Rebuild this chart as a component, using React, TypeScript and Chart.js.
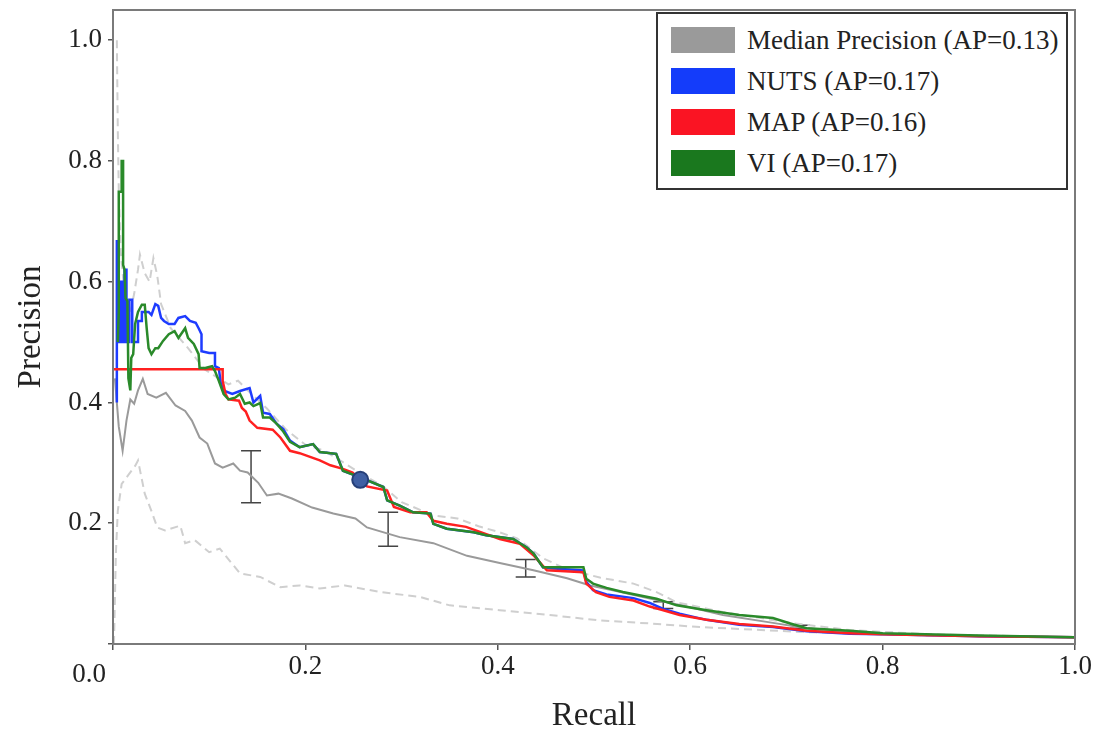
import React, { useEffect, useRef } from 'react';
import { Chart, registerables } from 'chart.js';

Chart.register(...registerables);

// ---------- data ----------
const xTickValues = [0, 0.2, 0.4, 0.6, 0.8, 1.0];
const yTickValues = [0, 0.2, 0.4, 0.6, 0.8, 1.0];

const legendLabels = [
  'Median Precision (AP=0.13)',
  'NUTS (AP=0.17)',
  'MAP (AP=0.16)',
  'VI (AP=0.17)',
];

const nutsPts: [number, number][] = [
  [0.004, 0.40], [0.004, 0.667], [0.006, 0.667], [0.006, 0.50], [0.008, 0.50], [0.008, 0.60],
  [0.010, 0.60], [0.010, 0.50], [0.012, 0.50], [0.012, 0.62], [0.014, 0.62], [0.014, 0.50],
  [0.017, 0.50], [0.017, 0.57], [0.020, 0.57], [0.020, 0.50], [0.026, 0.50], [0.026, 0.535],
  [0.030, 0.535], [0.030, 0.55], [0.037, 0.55], [0.040, 0.545], [0.044, 0.563], [0.047, 0.56],
  [0.050, 0.54], [0.053, 0.535], [0.058, 0.53], [0.064, 0.53], [0.068, 0.54], [0.075, 0.543],
  [0.080, 0.535], [0.086, 0.532], [0.089, 0.523], [0.092, 0.513], [0.092, 0.485], [0.100, 0.482],
  [0.106, 0.482], [0.106, 0.46], [0.110, 0.457], [0.112, 0.432], [0.116, 0.419], [0.124, 0.414],
  [0.132, 0.419], [0.142, 0.424], [0.146, 0.40], [0.153, 0.411], [0.156, 0.383], [0.163, 0.381],
  [0.170, 0.365], [0.177, 0.356], [0.184, 0.337], [0.194, 0.326], [0.208, 0.331], [0.215, 0.318],
  [0.232, 0.315], [0.239, 0.287], [0.257, 0.276], [0.281, 0.26], [0.285, 0.238], [0.298, 0.229],
  [0.312, 0.218], [0.330, 0.216], [0.333, 0.199], [0.347, 0.191], [0.375, 0.185], [0.388, 0.18],
  [0.416, 0.174], [0.430, 0.16], [0.437, 0.15], [0.447, 0.127], [0.458, 0.125], [0.489, 0.122],
  [0.492, 0.103], [0.499, 0.089], [0.513, 0.082], [0.541, 0.076], [0.558, 0.068], [0.572, 0.058],
  [0.589, 0.05], [0.617, 0.04], [0.651, 0.032], [0.686, 0.028], [0.721, 0.021], [0.766, 0.017],
  [0.80, 0.016], [0.90, 0.013], [1.0, 0.011],
];

const mapPts: [number, number][] = [
  [0.0, 0.455], [0.114, 0.455], [0.114, 0.436], [0.117, 0.414], [0.120, 0.405], [0.131, 0.403],
  [0.134, 0.391], [0.138, 0.385], [0.142, 0.37], [0.150, 0.358], [0.166, 0.355], [0.174, 0.342],
  [0.184, 0.32], [0.194, 0.316], [0.215, 0.304], [0.226, 0.296], [0.239, 0.29], [0.249, 0.284],
  [0.264, 0.261], [0.285, 0.254], [0.292, 0.227], [0.309, 0.218], [0.326, 0.218], [0.333, 0.204],
  [0.347, 0.199], [0.367, 0.194], [0.388, 0.182], [0.402, 0.174], [0.423, 0.166], [0.437, 0.147],
  [0.451, 0.122], [0.489, 0.119], [0.492, 0.10], [0.502, 0.086], [0.516, 0.078], [0.541, 0.072],
  [0.558, 0.062], [0.572, 0.056], [0.589, 0.048], [0.617, 0.04], [0.651, 0.033], [0.686, 0.029],
  [0.721, 0.022], [0.766, 0.018], [0.80, 0.016], [0.90, 0.013], [1.0, 0.011],
];

const viPts: [number, number][] = [
  [0.005, 0.50], [0.006, 0.55], [0.006, 0.749], [0.009, 0.749], [0.009, 0.80], [0.0105, 0.80],
  [0.0105, 0.628], [0.012, 0.62], [0.013, 0.573], [0.015, 0.568], [0.016, 0.44], [0.018, 0.42],
  [0.019, 0.474], [0.021, 0.48], [0.023, 0.53], [0.026, 0.55], [0.030, 0.562], [0.033, 0.562],
  [0.035, 0.523], [0.037, 0.49], [0.040, 0.48], [0.044, 0.49], [0.047, 0.49], [0.052, 0.502],
  [0.058, 0.513], [0.064, 0.518], [0.068, 0.507], [0.075, 0.523], [0.078, 0.507], [0.084, 0.497],
  [0.089, 0.48], [0.090, 0.457], [0.096, 0.457], [0.103, 0.46], [0.106, 0.452], [0.110, 0.436],
  [0.115, 0.414], [0.120, 0.405], [0.127, 0.408], [0.132, 0.414], [0.137, 0.398], [0.142, 0.40],
  [0.146, 0.394], [0.153, 0.399], [0.156, 0.375], [0.163, 0.375], [0.170, 0.365], [0.177, 0.352],
  [0.184, 0.335], [0.194, 0.326], [0.208, 0.331], [0.215, 0.318], [0.232, 0.315], [0.239, 0.287],
  [0.257, 0.276], [0.281, 0.26], [0.285, 0.238], [0.298, 0.229], [0.312, 0.218], [0.330, 0.216],
  [0.333, 0.199], [0.347, 0.191], [0.375, 0.185], [0.388, 0.18], [0.416, 0.174], [0.430, 0.16],
  [0.437, 0.15], [0.447, 0.127], [0.458, 0.127], [0.489, 0.127], [0.492, 0.108], [0.499, 0.10],
  [0.513, 0.093], [0.530, 0.086], [0.565, 0.075], [0.586, 0.064], [0.617, 0.056], [0.651, 0.048],
  [0.686, 0.043], [0.704, 0.034], [0.721, 0.026], [0.766, 0.022], [0.80, 0.018], [0.90, 0.014],
  [1.0, 0.011],
];

const medianPts: [number, number][] = [
  [0.002, 0.44], [0.006, 0.36], [0.010, 0.32], [0.014, 0.37], [0.018, 0.405], [0.022, 0.398],
  [0.026, 0.42], [0.031, 0.439], [0.036, 0.414], [0.045, 0.408], [0.055, 0.416], [0.065, 0.395],
  [0.075, 0.386], [0.082, 0.37], [0.090, 0.342], [0.098, 0.332], [0.106, 0.299], [0.114, 0.292],
  [0.125, 0.299], [0.132, 0.287], [0.140, 0.284], [0.151, 0.267], [0.160, 0.246], [0.172, 0.249],
  [0.186, 0.241], [0.207, 0.226], [0.229, 0.216], [0.252, 0.208], [0.264, 0.193], [0.298, 0.177],
  [0.333, 0.167], [0.368, 0.146], [0.402, 0.134], [0.437, 0.122], [0.472, 0.109], [0.496, 0.097],
  [0.517, 0.09], [0.565, 0.073], [0.60, 0.061], [0.634, 0.048], [0.686, 0.035], [0.721, 0.026],
  [0.80, 0.017], [0.90, 0.013], [1.0, 0.011],
];

const upperQuantPts: [number, number][] = [
  [0.004, 1.0], [0.005, 0.85], [0.006, 0.75], [0.008, 0.65], [0.012, 0.58], [0.018, 0.55],
  [0.022, 0.58], [0.026, 0.62], [0.028, 0.645], [0.033, 0.614], [0.038, 0.60], [0.042, 0.639],
  [0.046, 0.61], [0.050, 0.563], [0.060, 0.523], [0.078, 0.49], [0.095, 0.455], [0.110, 0.44],
  [0.120, 0.43], [0.130, 0.436], [0.140, 0.42], [0.160, 0.39], [0.180, 0.355], [0.200, 0.33],
  [0.220, 0.32], [0.240, 0.30], [0.260, 0.28], [0.280, 0.262], [0.300, 0.235], [0.333, 0.213],
  [0.358, 0.208], [0.380, 0.195], [0.402, 0.185], [0.420, 0.175], [0.447, 0.142], [0.470, 0.125],
  [0.506, 0.11], [0.541, 0.10], [0.565, 0.086], [0.586, 0.069], [0.634, 0.053], [0.704, 0.035],
  [0.766, 0.023], [0.85, 0.016], [1.0, 0.011],
];

const lowerQuantPts: [number, number][] = [
  [0.001, 0.0], [0.003, 0.15], [0.005, 0.221], [0.009, 0.265], [0.016, 0.28], [0.023, 0.295],
  [0.026, 0.304], [0.033, 0.249], [0.040, 0.22], [0.046, 0.193], [0.054, 0.188], [0.070, 0.196],
  [0.075, 0.167], [0.085, 0.172], [0.100, 0.152], [0.111, 0.158], [0.132, 0.117], [0.153, 0.111],
  [0.174, 0.094], [0.194, 0.097], [0.215, 0.092], [0.241, 0.097], [0.278, 0.086], [0.319, 0.078],
  [0.350, 0.064], [0.402, 0.056], [0.454, 0.048], [0.506, 0.039], [0.558, 0.034], [0.610, 0.028],
  [0.714, 0.02], [0.85, 0.014], [1.0, 0.011],
];

const errRecall = [0.1435, 0.286, 0.429, 0.572, 0.714];
const errLow = [0.234, 0.162, 0.111, 0.059, 0.026];
const errHigh = [0.32, 0.218, 0.14, 0.07, 0.031];

const markerPt: [number, number][] = [[0.257, 0.272]];

// ---------- styles ----------
const FONT = "'Liberation Serif', 'DejaVu Serif', serif";
const C_MEDIAN = '#9a9a9a';
const C_NUTS = '#1e3cff';
const C_MAP = '#ff2020';
const C_VI = '#2a8a2a';
const legendSwatches = ['#9a9a9a', '#143cfa', '#fa1423', '#1a781e'];

const toXY = (pts: [number, number][]) => pts.map(([x, y]) => ({ x, y }));

const overlayPlugin = {
  id: 'overlay',
  beforeDatasetsDraw(chart: any) {
    const { ctx, scales } = chart;
    const xs = scales.x;
    const ys = scales.y;
    ctx.save();
    ctx.strokeStyle = '#444';
    ctx.lineWidth = 1.5;
    errRecall.forEach((r, i) => {
      const px = xs.getPixelForValue(r);
      const p1 = ys.getPixelForValue(errLow[i]);
      const p2 = ys.getPixelForValue(errHigh[i]);
      const cap = 10;
      ctx.beginPath();
      ctx.moveTo(px, p1);
      ctx.lineTo(px, p2);
      ctx.moveTo(px - cap, p1);
      ctx.lineTo(px + cap, p1);
      ctx.moveTo(px - cap, p2);
      ctx.lineTo(px + cap, p2);
      ctx.stroke();
    });
    ctx.restore();
  },
  afterDraw(chart: any) {
    const { ctx, chartArea: a, scales } = chart;
    ctx.save();
    ctx.strokeStyle = '#7a7a7a';
    ctx.lineWidth = 2;
    ctx.strokeRect(a.left, a.top, a.right - a.left, a.bottom - a.top);
    // shared origin label
    ctx.fillStyle = '#222';
    ctx.font = `27px ${FONT}`;
    ctx.textAlign = 'center';
    ctx.textBaseline = 'middle';
    ctx.fillText('0.0', scales.x.getPixelForValue(0) - 24, scales.y.getPixelForValue(0) + 31);
    ctx.restore();
  },
};

export default function App() {
  const canvasRef = useRef<HTMLCanvasElement | null>(null);

  useEffect(() => {
    const canvas = canvasRef.current;
    if (!canvas) return;
    const lineBase = { pointRadius: 0, tension: 0, fill: false, showLine: true, type: 'line' as const };
    const chart = new Chart(canvas, {
      type: 'scatter',
      data: {
        datasets: [
          {
            label: 'marker',
            data: toXY(markerPt),
            pointRadius: 8,
            pointBackgroundColor: '#3f5fa3',
            pointBorderColor: '#263f78',
            pointBorderWidth: 2,
            showLine: false,
          } as any,
          { ...lineBase, label: legendLabels[3], data: toXY(viPts), borderColor: C_VI, borderWidth: 2.5 },
          { ...lineBase, label: legendLabels[2], data: toXY(mapPts), borderColor: C_MAP, borderWidth: 2.5 },
          { ...lineBase, label: legendLabels[1], data: toXY(nutsPts), borderColor: C_NUTS, borderWidth: 2.5 },
          { ...lineBase, label: legendLabels[0], data: toXY(medianPts), borderColor: C_MEDIAN, borderWidth: 2 },
          { ...lineBase, label: 'upper', data: toXY(upperQuantPts), borderColor: '#cfcfcf', borderWidth: 2, borderDash: [8, 5] },
          { ...lineBase, label: 'lower', data: toXY(lowerQuantPts), borderColor: '#cfcfcf', borderWidth: 2, borderDash: [8, 5] },
        ] as any,
      },
      options: {
        animation: false,
        responsive: false,
        devicePixelRatio: 1,
        layout: { padding: { top: 7, right: 24, left: 0, bottom: 0 } },
        plugins: { legend: { display: false }, tooltip: { enabled: false } },
        scales: {
          x: {
            type: 'linear',
            min: 0,
            max: 1,
            afterFit: (s: any) => { s.height = 89; s.paddingLeft = 0; s.paddingRight = 0; },
            afterBuildTicks: (s: any) => { s.ticks = xTickValues.map((v) => ({ value: v })); },
            grid: { display: true, drawOnChartArea: false, drawTicks: true, tickLength: 6, color: '#555', lineWidth: 1.5 },
            border: { display: true, color: '#7a7a7a', width: 2 },
            ticks: {
              color: '#222',
              font: { family: FONT, size: 27 },
              padding: 1,
              maxRotation: 0,
              callback: (v: any) => (Number(v) === 0 ? '' : Number(v).toFixed(1)),
            },
            title: {
              display: true,
              text: 'Recall',
              color: '#222',
              font: { family: FONT, size: 33 },
              padding: { top: 0, bottom: -3 },
            },
          },
          y: {
            type: 'linear',
            min: 0,
            max: 1.05,
            afterFit: (s: any) => { s.width = 113; s.paddingTop = 0; s.paddingBottom = 0; },
            afterBuildTicks: (s: any) => { s.ticks = yTickValues.map((v) => ({ value: v })); },
            grid: { display: true, drawOnChartArea: false, drawTicks: true, tickLength: 5, color: '#555', lineWidth: 1.5 },
            border: { display: true, color: '#7a7a7a', width: 2 },
            ticks: {
              color: '#222',
              font: { family: FONT, size: 27 },
              padding: 6,
              callback: (v: any) => (Number(v) === 0 ? '' : Number(v).toFixed(1)),
            },
            title: {
              display: true,
              text: 'Precision',
              color: '#222',
              font: { family: FONT, size: 33 },
              padding: { top: 12, bottom: 0 },
            },
          },
        },
      } as any,
      plugins: [overlayPlugin],
    });
    return () => chart.destroy();
  }, []);

  return (
    <div style={{ position: 'fixed', left: 0, top: 0, width: 1099, height: 733, background: '#fff' }}>
      <canvas ref={canvasRef} width={1099} height={733} style={{ display: 'block', width: 1099, height: 733 }} />
      <div
        style={{
          position: 'absolute',
          left: 656,
          top: 12,
          width: 412,
          height: 178,
          border: '2px solid #333',
          boxSizing: 'border-box',
          background: '#fff',
          fontFamily: FONT,
          fontSize: 27,
          color: '#222',
        }}
      >
        {legendLabels.map((label, i) => (
          <div key={label} style={{ position: 'absolute', left: 13, top: 13 + i * 41, height: 26, display: 'flex', alignItems: 'center', whiteSpace: 'nowrap' }}>
            <span style={{ display: 'inline-block', width: 64, height: 26, background: legendSwatches[i] }} />
            <span style={{ marginLeft: 12, lineHeight: '26px' }}>{label}</span>
          </div>
        ))}
      </div>
    </div>
  );
}
